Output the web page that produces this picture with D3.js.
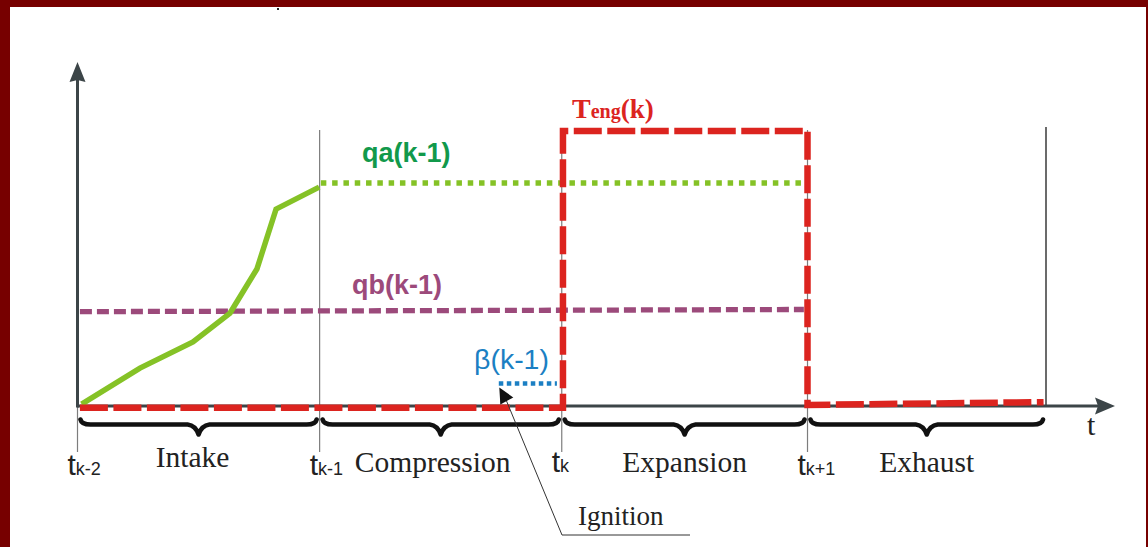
<!DOCTYPE html>
<html>
<head>
<meta charset="utf-8">
<script src="https://cdn.jsdelivr.net/npm/d3@7"></script>
<style>
  html, body { margin: 0; padding: 0; background: #ffffff; }
  svg { display: block; }
</style>
</head>
<body>
<script>
// Four-stroke cycle timing: phase boundaries in cycle units
const phaseBounds = [0, 1, 2, 3.015, 4];
const phaseNames = ["Intake", "Compression", "Expansion", "Exhaust"];
const tickBase = ["t", "t", "t", "t"];
const tickSub = ["k-2", "k-1", "k", "k+1"];

// Air charge rising during intake, then held
const qaRiseTime = [0.017, 0.258, 0.477, 0.630, 0.741, 0.820, 0.998];
const qaRiseValue = [0.007, 0.138, 0.233, 0.338, 0.498, 0.716, 0.796];
const qaHoldTime = [1.005, 3.0];
const qaHoldValue = [0.811, 0.811];

// Fuel quantity held over intake through expansion
const qbTime = [0.01, 3.0];
const qbValue = [0.343, 0.351];

// Spark advance near the end of compression
const betaTime = [1.74, 1.98];
const betaValue = [0.082, 0.082];

// Engine torque pulse over the expansion stroke
const tengTime = [0.01, 2.005, 2.005, 3.015, 3.015, 3.99];
const tengValue = [-0.006, -0.006, 1.0, 1.0, 0.004, 0.014];

const W = 1148, H = 547;
const svg = d3.select("body").append("svg").attr("width", W).attr("height", H);

svg.append("rect").attr("width", W).attr("height", H).attr("fill", "#ffffff");

const x = d3.scaleLinear().domain([0, 4]).range([77.5, 1046]);
const y = d3.scaleLinear().domain([0, 1]).range([406, 131]);

const axisColor = "#3c4548";
const redC = "#dc241f", greenC = "#85c226", greenText = "#11994b",
      purpleC = "#9c4a7b", blueC = "#1b7fc3";

const line = d3.line().x(d => x(d[0])).y(d => y(d[1]));
const pairs = (t, v) => t.map((ti, i) => [ti, v[i]]);

// Frame
svg.append("rect").attr("x", 0).attr("y", 0).attr("width", W).attr("height", 7).attr("fill", "#770000");
svg.append("rect").attr("x", 0).attr("y", 0).attr("width", 10).attr("height", H).attr("fill", "#770000");
svg.append("rect").attr("x", 1146).attr("y", 0).attr("width", 2).attr("height", H).attr("fill", "#770000");
svg.append("rect").attr("x", 277).attr("y", 8).attr("width", 2).attr("height", 2).attr("fill", "#222");

// Phase boundary guides
const guides = svg.append("g");
phaseBounds.forEach((t, i) => {
  const top = i === 0 ? y(0) : (i === 4 ? 127 : 130);
  const bottom = i === 4 ? y(0) : 452;
  guides.append("line")
    .attr("x1", x(t)).attr("x2", x(t))
    .attr("y1", top).attr("y2", bottom)
    .attr("stroke", i === 4 ? "#3a3a3a" : "#7d7d7d")
    .attr("stroke-width", i === 4 ? 1.5 : 1.2);
});

// Braces under each stroke
function bracePath(x0, x1, yTop, yMid, yTip) {
  const xm = (x0 + x1) / 2;
  const p = d3.path();
  p.moveTo(x0, yTop);
  p.quadraticCurveTo(x0 + 1, yMid, x0 + 10, yMid);
  p.lineTo(xm - 11, yMid);
  p.quadraticCurveTo(xm - 3, yMid + 1, xm, yTip);
  p.quadraticCurveTo(xm + 3, yMid + 1, xm + 11, yMid);
  p.lineTo(x1 - 10, yMid);
  p.quadraticCurveTo(x1 - 1, yMid, x1, yTop);
  return p.toString();
}
const braces = svg.append("g");
phaseNames.forEach((name, i) => {
  const x0 = x(phaseBounds[i]) + 3, x1 = x(phaseBounds[i + 1]) - 3;
  braces.append("path")
    .attr("d", bracePath(x0, x1, 419.5, 424.5, 434.5))
    .attr("fill", "none").attr("stroke", "#111")
    .attr("stroke-width", 4.6).attr("stroke-linecap", "round").attr("stroke-linejoin", "round");
  braces.append("text")
    .attr("x", (x0 + x1) / 2 + (i === 0 ? -6 : i === 1 ? -8 : 0))
    .attr("y", i === 0 ? 467 : 472)
    .attr("text-anchor", "middle")
    .attr("font-family", "'Liberation Serif', 'Times New Roman', serif")
    .attr("font-size", 29.5).attr("fill", "#222")
    .text(name);
});

// Time tick labels
phaseBounds.slice(0, 4).forEach((t, i) => {
  const lbl = svg.append("text")
    .attr("x", x(t) - 10).attr("y", i === 2 ? 472 : 475)
    .attr("font-family", "'Liberation Sans', Arial, sans-serif")
    .attr("fill", "#222");
  lbl.append("tspan").attr("font-size", 30).text(tickBase[i]);
  lbl.append("tspan").attr("font-size", 18).text(tickSub[i]);
});

// Axes with arrowheads
svg.append("line").attr("x1", x(0)).attr("x2", x(0)).attr("y1", y(0) + 1.5).attr("y2", 80)
  .attr("stroke", axisColor).attr("stroke-width", 3);
svg.append("path").attr("d", `M${x(0)},62 L${x(0) + 8},82 L${x(0)},80 L${x(0) - 8},82 Z`).attr("fill", axisColor);
svg.append("line").attr("x1", x(0)).attr("x2", 1098).attr("y1", y(0)).attr("y2", y(0))
  .attr("stroke", axisColor).attr("stroke-width", 3);
svg.append("path").attr("d", `M1115,${y(0)} L1095,${y(0) - 8.5} L1098,${y(0)} L1095,${y(0) + 8.5} Z`).attr("fill", axisColor);
svg.append("text").attr("x", 1087).attr("y", 435)
  .attr("font-family", "'Liberation Serif', 'Times New Roman', serif")
  .attr("font-size", 30).attr("fill", "#222").text("t");

// qb(k-1)
svg.append("path").attr("d", line(pairs(qbTime, qbValue)))
  .attr("fill", "none").attr("stroke", purpleC).attr("stroke-width", 5.3)
  .attr("stroke-dasharray", "12,5");

// qa(k-1)
svg.append("path").attr("d", line(pairs(qaRiseTime, qaRiseValue)))
  .attr("fill", "none").attr("stroke", greenC).attr("stroke-width", 5.5)
  .attr("stroke-linejoin", "miter");
svg.append("path").attr("d", line(pairs(qaHoldTime, qaHoldValue)))
  .attr("fill", "none").attr("stroke", greenC).attr("stroke-width", 5.5)
  .attr("stroke-dasharray", "5.5,5.8");

// β(k-1)
svg.append("path").attr("d", line(pairs(betaTime, betaValue)))
  .attr("fill", "none").attr("stroke", blueC).attr("stroke-width", 4.5)
  .attr("stroke-dasharray", "4.5,3.5");

// Teng(k)
svg.append("path").attr("d", line(pairs(tengTime, tengValue)))
  .attr("fill", "none").attr("stroke", redC).attr("stroke-width", 6.5)
  .attr("stroke-dasharray", "28,5.5").attr("stroke-linejoin", "miter");

// Series labels
svg.append("text").attr("x", 362).attr("y", 162)
  .attr("font-family", "'Liberation Sans', Arial, sans-serif").attr("font-weight", "bold")
  .attr("font-size", 27).attr("fill", greenText).text("qa(k-1)");
svg.append("text").attr("x", 352).attr("y", 294)
  .attr("font-family", "'Liberation Sans', Arial, sans-serif").attr("font-weight", "bold")
  .attr("font-size", 27).attr("fill", purpleC).text("qb(k-1)");
svg.append("text").attr("x", 474).attr("y", 369)
  .attr("font-family", "'Liberation Sans', Arial, sans-serif")
  .attr("font-size", 28.5).attr("fill", blueC).text("β(k-1)");
const teng = svg.append("text").attr("x", 572).attr("y", 118)
  .attr("font-family", "'Liberation Serif', 'Times New Roman', serif").attr("font-weight", "bold")
  .attr("fill", redC);
teng.append("tspan").attr("font-size", 28).text("T");
teng.append("tspan").attr("font-size", 20).text("eng");
teng.append("tspan").attr("font-size", 27).text("(k)");

// Ignition callout pointing at the start of β
const tipX = x(betaTime[0]) + 0.5, tipY = y(betaValue[0]) + 4;
svg.append("polyline")
  .attr("points", `${tipX + 7},${tipY + 13} 562,535 690,535`)
  .attr("fill", "none").attr("stroke", "#333").attr("stroke-width", 1);
svg.append("path")
  .attr("d", `M${tipX},${tipY} L${tipX + 1},${tipY + 17} L${tipX + 14},${tipY + 10} Z`)
  .attr("fill", "#111");
svg.append("text").attr("x", 578).attr("y", 525)
  .attr("font-family", "'Liberation Serif', 'Times New Roman', serif")
  .attr("font-size", 27).attr("fill", "#222").text("Ignition");
</script>
</body>
</html>
